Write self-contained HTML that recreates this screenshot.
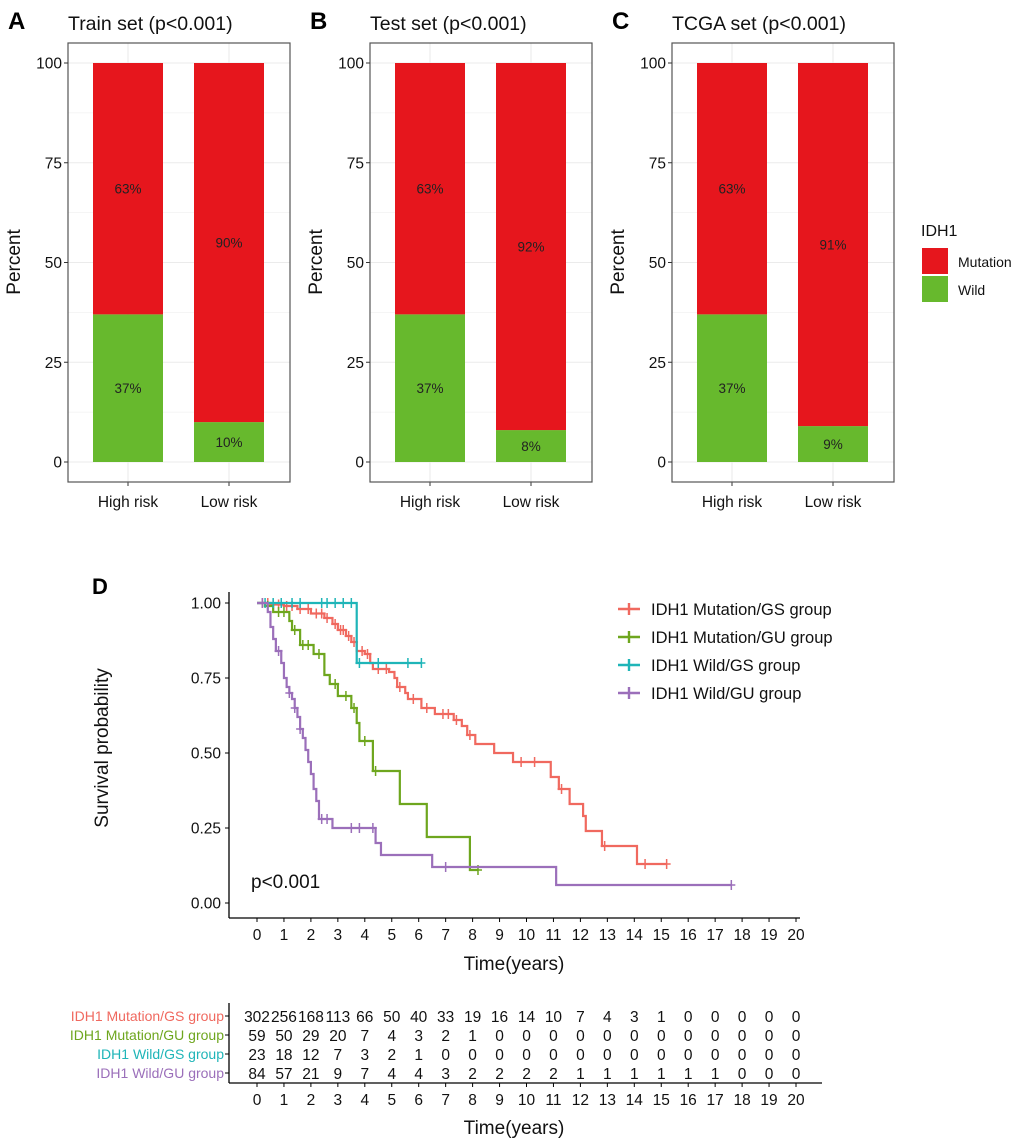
<!DOCTYPE html>
<html><head><meta charset="utf-8"><style>
html,body{margin:0;padding:0;background:#fff}
svg{display:block;font-family:"Liberation Sans",Arial,sans-serif}
</style></head><body>
<svg id="svg" width="1020" height="1144" viewBox="0 0 1020 1144" xmlns="http://www.w3.org/2000/svg"></svg>
<script>
// ---- Bar panel data ----
const panelTitles = ["Train set (p<0.001)", "Test set (p<0.001)", "TCGA set (p<0.001)"];
const panelLetters = ["A", "B", "C"];
const barCategories = ["High risk", "Low risk"];
const wildPct = [[37, 10], [37, 8], [37, 9]];
const mutPct = [[63, 90], [63, 92], [63, 91]];
const barTicks = [0, 25, 50, 75, 100];

// ---- KM data ----
const kmGroups = ["IDH1 Mutation/GS group", "IDH1 Mutation/GU group", "IDH1 Wild/GS group", "IDH1 Wild/GU group"];
const kmColors = ["#F0695F", "#6EA61E", "#1FB5B8", "#9B6FBA"];
const gsT = [0,0.5,1,1.5,2,2.5,2.8,3,3.3,3.5,3.7,4.0,4.2,4.3,4.9,5.1,5.2,5.5,5.6,6.1,6.6,7.3,7.6,7.8,8.1,8.8,9.5,10.9,11.2,11.6,12.1,12.2,12.8,14.1,15.2];
const gsS = [1,0.995,0.99,0.98,0.965,0.95,0.93,0.91,0.89,0.87,0.84,0.83,0.80,0.78,0.77,0.75,0.72,0.70,0.68,0.65,0.63,0.61,0.59,0.56,0.53,0.50,0.47,0.42,0.38,0.33,0.29,0.24,0.19,0.13,0.13];
const gsCens = [0.2,0.4,0.6,0.8,1.1,1.3,1.6,1.9,2.2,2.4,2.6,2.9,3.1,3.2,3.4,3.6,3.9,4.1,4.5,4.8,5.3,5.8,6.3,6.9,7.1,7.4,7.9,9.8,10.3,11.3,12.9,14.4,15.2];
const guT = [0,0.3,0.6,1.2,1.3,1.6,2.1,2.5,2.7,3.0,3.5,3.7,3.8,4.3,5.3,6.3,7.9,8.2];
const guS = [1,0.99,0.97,0.94,0.91,0.86,0.83,0.76,0.73,0.69,0.65,0.60,0.54,0.44,0.33,0.22,0.11,0.11];
const guCens = [0.4,0.8,1.0,1.4,1.7,1.9,2.3,2.9,3.3,3.6,4.0,4.4,8.2];
const wgsT = [0,3.7,6.1];
const wgsS = [1,0.80,0.80];
const wgsCens = [0.3,0.6,0.9,1.3,1.6,2.4,2.6,2.9,3.2,3.5,3.8,4.5,5.6,6.1];
const wguT = [0,0.4,0.5,0.6,0.7,0.9,1.0,1.1,1.2,1.3,1.4,1.5,1.6,1.7,1.8,1.9,2.0,2.1,2.2,2.3,2.8,4.4,4.6,6.5,11.1,17.6];
const wguS = [1,0.97,0.92,0.88,0.84,0.80,0.75,0.72,0.70,0.68,0.65,0.62,0.58,0.55,0.51,0.47,0.43,0.38,0.34,0.28,0.25,0.20,0.16,0.12,0.06,0.06];
const wguCens = [0.2,0.8,1.2,1.4,1.6,2.4,2.6,3.5,3.8,4.3,7.0,17.6];
const kmTicksX = [0,1,2,3,4,5,6,7,8,9,10,11,12,13,14,15,16,17,18,19,20];
const kmTicksY = [0,0.25,0.5,0.75,1];
const riskRows = [
 [302,256,168,113,66,50,40,33,19,16,14,10,7,4,3,1,0,0,0,0,0],
 [59,50,29,20,7,4,3,2,1,0,0,0,0,0,0,0,0,0,0,0,0],
 [23,18,12,7,3,2,1,0,0,0,0,0,0,0,0,0,0,0,0,0,0],
 [84,57,21,9,7,4,4,3,2,2,2,2,1,1,1,1,1,1,0,0,0]
];

const svg = document.getElementById('svg');
const NS = "http://www.w3.org/2000/svg";
function mk(tag, attrs, parent, text){
  const e = document.createElementNS(NS, tag);
  for (const k in attrs) e.setAttribute(k, attrs[k]);
  if (text !== undefined) e.textContent = text;
  (parent || svg).appendChild(e);
  return e;
}

// ---- Bar panels ----
for (let p = 0; p < 3; p++) {
  const off = p * 302;
  const g = mk('g', {});
  
  
  const left = 68 + off, right = 290 + off, top = 43, bottom = 482;
  const yS = v => 462 - v * 3.99;
  mk('rect', {x:left, y:top, width:right-left, height:bottom-top, fill:'#fff'}, g);
  // grid
  for (let v = 0; v <= 100; v += 12.5) {
    const l = mk('line', {x1:left, x2:right, y1:yS(v), y2:yS(v), stroke:'#ebebeb', 'stroke-width': v % 25 === 0 ? 1.1 : 0.6}, g);
    
    
  }
  const cx = [128 + off, 229 + off];
  cx.forEach(c => mk('line', {x1:c, x2:c, y1:top, y2:bottom, stroke:'#ebebeb', 'stroke-width':1.1}, g));
  // bars
  for (let i = 0; i < 2; i++) {
    const w = wildPct[p][i], m = mutPct[p][i];
    const rw = mk('rect', {x:cx[i]-35, y:yS(w), width:70, height:yS(0)-yS(w), fill:'#67B92D'}, g);
    
    
    const rm = mk('rect', {x:cx[i]-35, y:yS(w+m), width:70, height:yS(w)-yS(w+m), fill:'#E6161D'}, g);
    
    
    const t1 = mk('text', {x:cx[i], y:yS(w/2)+5, 'text-anchor':'middle', 'font-size':13.5, fill:'#222'}, g, w + '%');
    
    
    const t2 = mk('text', {x:cx[i], y:yS(w + m/2)+5, 'text-anchor':'middle', 'font-size':13.5, fill:'#222'}, g, m + '%');
    
    
    mk('line', {x1:cx[i], x2:cx[i], y1:bottom, y2:bottom+4, stroke:'#333', 'stroke-width':1}, g);
    const xl = mk('text', {x:cx[i], y:507, 'text-anchor':'middle', 'font-size':15.5, fill:'#111'}, g, barCategories[i]);
    
    
  }
  mk('rect', {x:left, y:top, width:right-left, height:bottom-top, fill:'none', stroke:'#555', 'stroke-width':1.2}, g);
  barTicks.forEach(v => {
    mk('line', {x1:left-4, x2:left, y1:yS(v), y2:yS(v), stroke:'#333'}, g);
    const t = mk('text', {x:left-6, y:yS(v)+5.5, 'text-anchor':'end', 'font-size':15.5, fill:'#111'}, g, v);
    
    
  });
  const yt = mk('text', {x:0, y:0, transform:`translate(${20+off},262) rotate(-90)`, 'text-anchor':'middle', 'font-size':19, fill:'#111'}, g, 'Percent');
  
  
  const tt = mk('text', {x:68+off, y:30, 'font-size':19.5, fill:'#111'}, g, panelTitles[p]);
  
  
  const lt = mk('text', {x:8+off, y:29, 'font-size':24, 'font-weight':'bold', fill:'#000'}, g, panelLetters[p]);
  
  
}
// bar legend
{
  const g = mk('g', {});
  
  
  mk('text', {x:921, y:236, 'font-size':16, fill:'#111'}, g, 'IDH1');
  const k1 = mk('rect', {x:922, y:248, width:26, height:26, fill:'#E6161D'}, g);
  
  
  const k2 = mk('rect', {x:922, y:276, width:26, height:26, fill:'#67B92D'}, g);
  
  
  mk('text', {x:958, y:267, 'font-size':14, fill:'#111'}, g, 'Mutation');
  mk('text', {x:958, y:295, 'font-size':14, fill:'#111'}, g, 'Wild');
}

// ---- KM plot ----
const kx = t => 257 + t * 26.95;
const ky = s => 903 - s * 300;
{
  const g = mk('g', {});
  
  
  const lt = mk('text', {x:92, y:594, 'font-size':22, 'font-weight':'bold', fill:'#000'}, g, 'D');
  
  
  mk('line', {x1:229, x2:229, y1:592, y2:918, stroke:'#000', 'stroke-width':1.3}, g);
  mk('line', {x1:229, x2:800, y1:918, y2:918, stroke:'#000', 'stroke-width':1.3}, g);
  kmTicksY.forEach(v => {
    mk('line', {x1:225, x2:229, y1:ky(v), y2:ky(v), stroke:'#000'}, g);
    const t = mk('text', {x:221, y:ky(v)+5.5, 'text-anchor':'end', 'font-size':15.5, fill:'#111'}, g, v.toFixed(2));
    
    
  });
  kmTicksX.forEach(v => {
    mk('line', {x1:kx(v), x2:kx(v), y1:918, y2:922, stroke:'#000'}, g);
    const t = mk('text', {x:kx(v), y:940, 'text-anchor':'middle', 'font-size':15.5, fill:'#111'}, g, v);
    
    
  });
  const yt = mk('text', {x:0, y:0, transform:'translate(108,748) rotate(-90)', 'text-anchor':'middle', 'font-size':19, fill:'#111'}, g, 'Survival probability');
  
  
  const xt = mk('text', {x:514, y:970, 'text-anchor':'middle', 'font-size':19, fill:'#111'}, g, 'Time(years)');
  
  
  const pv = mk('text', {x:251, y:888, 'font-size':19, fill:'#111'}, g, 'p<0.001');
  
  

  const series = [[gsT,gsS,gsCens],[guT,guS,guCens],[wgsT,wgsS,wgsCens],[wguT,wguS,wguCens]];
  series.forEach((sr, i) => {
    const [T, S, C] = sr;
    let d = `M${kx(T[0])},${ky(S[0])}`;
    for (let j = 1; j < T.length; j++) d += ` H${kx(T[j])} V${ky(S[j])}`;
    const path = mk('path', {d, fill:'none', stroke:kmColors[i], 'stroke-width':2.2}, g);
    
    
    C.forEach(c => {
      let s = S[0];
      for (let j = 0; j < T.length; j++) if (T[j] <= c) s = S[j];
      mk('path', {d:`M${kx(c)-4},${ky(s)} H${kx(c)+4} M${kx(c)},${ky(s)-5} V${ky(s)+5}`, stroke:kmColors[i], 'stroke-width':1.5, fill:'none'}, g);
    });
    // legend
    const ly = 609 + i * 28;
    const lg = mk('g', {}, g);
    
    
    mk('path', {d:`M618,${ly} H640 M629,${ly-6} V${ly+6}`, stroke:kmColors[i], 'stroke-width':2.4}, lg);
    mk('text', {x:651, y:ly+6, 'font-size':16.5, fill:'#111'}, lg, kmGroups[i]);
  });
}

// ---- Risk table ----
{
  const g = mk('g', {});
  
  
  mk('line', {x1:229, x2:229, y1:1003, y2:1083, stroke:'#000', 'stroke-width':1.3}, g);
  mk('line', {x1:229, x2:822, y1:1083, y2:1083, stroke:'#000', 'stroke-width':1.3}, g);
  const rowY = [1016, 1035, 1054, 1073];
  riskRows.forEach((row, i) => {
    mk('line', {x1:225, x2:229, y1:rowY[i], y2:rowY[i], stroke:'#000'}, g);
    const lab = mk('text', {x:224, y:rowY[i]+5, 'text-anchor':'end', 'font-size':14, fill:kmColors[i]}, g, kmGroups[i]);
    
    
    row.forEach((v, j) => {
      mk('text', {x:kx(j), y:rowY[i]+6, 'text-anchor':'middle', 'font-size':15.5, fill:'#111'}, g, v);
    });
  });
  kmTicksX.forEach(v => {
    mk('line', {x1:kx(v), x2:kx(v), y1:1083, y2:1087, stroke:'#000'}, g);
    mk('text', {x:kx(v), y:1105, 'text-anchor':'middle', 'font-size':15.5, fill:'#111'}, g, v);
  });
  const xt = mk('text', {x:514, y:1134, 'text-anchor':'middle', 'font-size':19, fill:'#111'}, g, 'Time(years)');
  
  
}
</script>
</body></html>
